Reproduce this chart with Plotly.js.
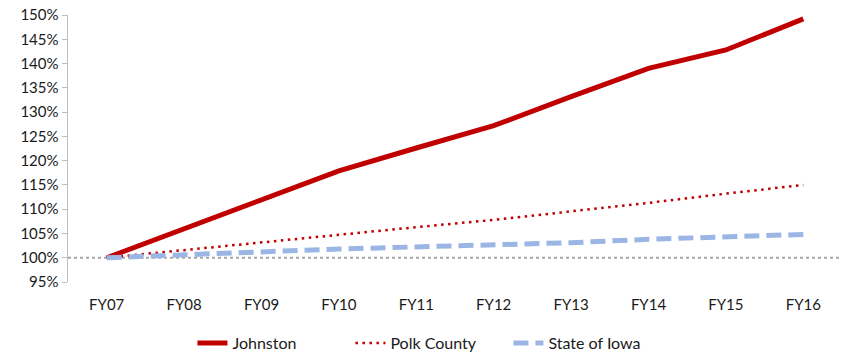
<!DOCTYPE html>
<html>
<head>
<meta charset="utf-8">
<script src="https://cdn.plot.ly/plotly-3.0.1.min.js"></script>
<style>html,body{margin:0;padding:0;background:#fff;}#chart{width:847px;height:353px;}</style>
</head>
<body>
<div id="chart"></div>
<script>
const categories = ["FY07","FY08","FY09","FY10","FY11","FY12","FY13","FY14","FY15","FY16"];
const johnston = [100, 106.0, 112.0, 117.9, 122.6, 127.2, 133.2, 139.0, 142.8, 149.2];
const polkCounty = [100, 101.6, 103.2, 104.8, 106.3, 107.8, 109.5, 111.3, 113.2, 115.0];
const stateOfIowa = [100, 100.5, 101.2, 101.8, 102.2, 102.6, 103.1, 103.8, 104.3, 104.8];
const yTickVals = [95,100,105,110,115,120,125,130,135,140,145,150];
const yTickText = yTickVals.map(v => v + "%");

const font = {family: "Lato, 'Open Sans', sans-serif", size: 15, color: "#1a1a1a"};
const legendFont = {family: "Lato, 'Open Sans', sans-serif", size: 16, color: "#1a1a1a"};

const traces = [
  {x: categories, y: johnston, name: "Johnston", type: "scatter", mode: "lines",
   line: {color: "#C00000", width: 5}},
  {x: categories, y: polkCounty, name: "Polk County", type: "scatter", mode: "lines",
   line: {color: "#C00000", width: 2.5, dash: "2.5px,4.5px"}},
  {x: categories, y: stateOfIowa, name: "State of Iowa", type: "scatter", mode: "lines",
   line: {color: "#9BB6E4", width: 5, dash: "15px,7px"}}
];

const layout = {
  width: 847, height: 353,
  margin: {l: 68, r: 5, t: 15, b: 71},
  paper_bgcolor: "#fff", plot_bgcolor: "#fff",
  font: font,
  showlegend: true,
  legend: {orientation: "h", x: 0.507, xanchor: "center", xref: "container",
           y: 0.028, yanchor: "middle", yref: "container",
           font: legendFont, traceorder: "normal", entrywidth: 113, entrywidthmode: "pixels"},
  xaxis: {type: "category", range: [-0.5, 9.5], showgrid: false, zeroline: false,
          showline: false, ticks: "", tickfont: font, ticklabelstandoff: 12},
  yaxis: {range: [95, 150], tickvals: yTickVals, ticktext: yTickText, showgrid: false,
          zeroline: false, showline: true, linecolor: "#BFBFBF", linewidth: 1.5,
          ticks: "outside", ticklen: 5, tickcolor: "#BFBFBF", tickfont: font},
  shapes: [{type: "line", xref: "paper", x0: 0, x1: 1, yref: "y", y0: 100, y1: 100,
            line: {color: "#A6A6A6", width: 2, dash: "dot"}, layer: "below"}]
};

Plotly.newPlot("chart", traces, layout, {displayModeBar: false, staticPlot: true});
</script>
</body>
</html>
